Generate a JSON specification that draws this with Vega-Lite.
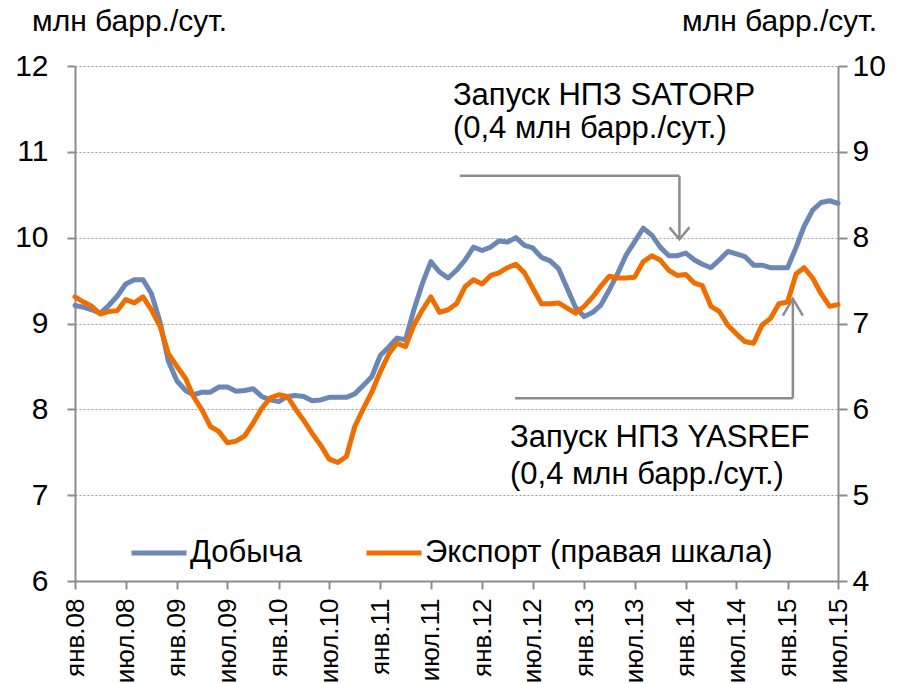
{
  "$schema": "https://vega.github.io/schema/vega-lite/v6.json",
  "width": 763,
  "height": 515,
  "autosize": {"type": "none"},
  "padding": {"left": 75, "top": 66, "right": 65, "bottom": 103},
  "background": "white",
  "config": {
    "font": "Liberation Sans",
    "view": {"stroke": null},
    "axis": {"labelColor": "#000000", "titleColor": "#000000", "domainColor": "#8c8c8c", "tickColor": "#8c8c8c", "domainWidth": 2, "tickWidth": 2, "titleFontWeight": "normal"}
  },
  "datasets": {
    "series": [
      {"d": "2008-01-01", "p": 9.21, "e": 7.31},
      {"d": "2008-02-01", "p": 9.19, "e": 7.25},
      {"d": "2008-03-01", "p": 9.16, "e": 7.20},
      {"d": "2008-04-01", "p": 9.12, "e": 7.11},
      {"d": "2008-05-01", "p": 9.21, "e": 7.14},
      {"d": "2008-06-01", "p": 9.32, "e": 7.15},
      {"d": "2008-07-01", "p": 9.46, "e": 7.28},
      {"d": "2008-08-01", "p": 9.51, "e": 7.24},
      {"d": "2008-09-01", "p": 9.51, "e": 7.31},
      {"d": "2008-10-01", "p": 9.35, "e": 7.16},
      {"d": "2008-11-01", "p": 9.02, "e": 6.97},
      {"d": "2008-12-01", "p": 8.56, "e": 6.65},
      {"d": "2009-01-01", "p": 8.33, "e": 6.50},
      {"d": "2009-02-01", "p": 8.22, "e": 6.36},
      {"d": "2009-03-01", "p": 8.17, "e": 6.15},
      {"d": "2009-04-01", "p": 8.20, "e": 5.99},
      {"d": "2009-05-01", "p": 8.20, "e": 5.80},
      {"d": "2009-06-01", "p": 8.26, "e": 5.74},
      {"d": "2009-07-01", "p": 8.26, "e": 5.61},
      {"d": "2009-08-01", "p": 8.21, "e": 5.63},
      {"d": "2009-09-01", "p": 8.22, "e": 5.69},
      {"d": "2009-10-01", "p": 8.24, "e": 5.84},
      {"d": "2009-11-01", "p": 8.15, "e": 6.01},
      {"d": "2009-12-01", "p": 8.11, "e": 6.13},
      {"d": "2010-01-01", "p": 8.09, "e": 6.17},
      {"d": "2010-02-01", "p": 8.15, "e": 6.15},
      {"d": "2010-03-01", "p": 8.16, "e": 6.01},
      {"d": "2010-04-01", "p": 8.15, "e": 5.87},
      {"d": "2010-05-01", "p": 8.10, "e": 5.72},
      {"d": "2010-06-01", "p": 8.11, "e": 5.58},
      {"d": "2010-07-01", "p": 8.14, "e": 5.42},
      {"d": "2010-08-01", "p": 8.14, "e": 5.38},
      {"d": "2010-09-01", "p": 8.14, "e": 5.45},
      {"d": "2010-10-01", "p": 8.18, "e": 5.80},
      {"d": "2010-11-01", "p": 8.28, "e": 6.01},
      {"d": "2010-12-01", "p": 8.38, "e": 6.20},
      {"d": "2011-01-01", "p": 8.63, "e": 6.44},
      {"d": "2011-02-01", "p": 8.73, "e": 6.65},
      {"d": "2011-03-01", "p": 8.83, "e": 6.77},
      {"d": "2011-04-01", "p": 8.81, "e": 6.73},
      {"d": "2011-05-01", "p": 9.16, "e": 6.98},
      {"d": "2011-06-01", "p": 9.47, "e": 7.16},
      {"d": "2011-07-01", "p": 9.72, "e": 7.31},
      {"d": "2011-08-01", "p": 9.60, "e": 7.13},
      {"d": "2011-09-01", "p": 9.53, "e": 7.16},
      {"d": "2011-10-01", "p": 9.62, "e": 7.23},
      {"d": "2011-11-01", "p": 9.74, "e": 7.43},
      {"d": "2011-12-01", "p": 9.89, "e": 7.51},
      {"d": "2012-01-01", "p": 9.85, "e": 7.46},
      {"d": "2012-02-01", "p": 9.89, "e": 7.56},
      {"d": "2012-03-01", "p": 9.96, "e": 7.59},
      {"d": "2012-04-01", "p": 9.95, "e": 7.65},
      {"d": "2012-05-01", "p": 10.00, "e": 7.69},
      {"d": "2012-06-01", "p": 9.91, "e": 7.59},
      {"d": "2012-07-01", "p": 9.88, "e": 7.41},
      {"d": "2012-08-01", "p": 9.77, "e": 7.23},
      {"d": "2012-09-01", "p": 9.73, "e": 7.23},
      {"d": "2012-10-01", "p": 9.64, "e": 7.24},
      {"d": "2012-11-01", "p": 9.41, "e": 7.18},
      {"d": "2012-12-01", "p": 9.19, "e": 7.12},
      {"d": "2013-01-01", "p": 9.08, "e": 7.20},
      {"d": "2013-02-01", "p": 9.13, "e": 7.31},
      {"d": "2013-03-01", "p": 9.21, "e": 7.43},
      {"d": "2013-04-01", "p": 9.39, "e": 7.55},
      {"d": "2013-05-01", "p": 9.58, "e": 7.53},
      {"d": "2013-06-01", "p": 9.80, "e": 7.53},
      {"d": "2013-07-01", "p": 9.95, "e": 7.54},
      {"d": "2013-08-01", "p": 10.11, "e": 7.72},
      {"d": "2013-09-01", "p": 10.03, "e": 7.79},
      {"d": "2013-10-01", "p": 9.89, "e": 7.74},
      {"d": "2013-11-01", "p": 9.79, "e": 7.62},
      {"d": "2013-12-01", "p": 9.79, "e": 7.56},
      {"d": "2014-01-01", "p": 9.82, "e": 7.57},
      {"d": "2014-02-01", "p": 9.74, "e": 7.47},
      {"d": "2014-03-01", "p": 9.69, "e": 7.44},
      {"d": "2014-04-01", "p": 9.65, "e": 7.20},
      {"d": "2014-05-01", "p": 9.74, "e": 7.14},
      {"d": "2014-06-01", "p": 9.84, "e": 6.98},
      {"d": "2014-07-01", "p": 9.81, "e": 6.88},
      {"d": "2014-08-01", "p": 9.78, "e": 6.79},
      {"d": "2014-09-01", "p": 9.68, "e": 6.77},
      {"d": "2014-10-01", "p": 9.68, "e": 6.98},
      {"d": "2014-11-01", "p": 9.65, "e": 7.06},
      {"d": "2014-12-01", "p": 9.65, "e": 7.23},
      {"d": "2015-01-01", "p": 9.65, "e": 7.25},
      {"d": "2015-02-01", "p": 9.89, "e": 7.58},
      {"d": "2015-03-01", "p": 10.13, "e": 7.65},
      {"d": "2015-04-01", "p": 10.32, "e": 7.53},
      {"d": "2015-05-01", "p": 10.41, "e": 7.35},
      {"d": "2015-06-01", "p": 10.43, "e": 7.20},
      {"d": "2015-07-01", "p": 10.40, "e": 7.22}
    ],
    "segments": [
      {"xa": "2011-10-13", "xb": "2013-12-09", "ya": 10.72, "yb": 10.72},
      {"xa": "2013-12-09", "xb": "2013-12-09", "ya": 10.72, "yb": 9.98},
      {"xa": "2012-04-28", "xb": "2015-01-20", "ya": 8.13, "yb": 8.13},
      {"xa": "2015-01-20", "xb": "2015-01-20", "ya": 8.13, "yb": 9.29}
    ],
    "headDown": [{"hx": "2013-12-09", "hy": 9.98}],
    "headUp": [{"hx": "2015-01-20", "hy": 9.29}],
    "notes": [
      {"tx": "2011-09-18", "ty": 11.55, "t": "Запуск НПЗ SATORP"},
      {"tx": "2011-09-18", "ty": 11.16, "t": "(0,4 млн барр./сут.)"},
      {"tx": "2012-04-10", "ty": 7.56, "t": "Запуск НПЗ YASREF"},
      {"tx": "2012-04-10", "ty": 7.13, "t": "(0,4 млн барр./сут.)"}
    ]
  },
  "layer": [
    {
      "layer": [
        {
          "data": {"name": "series"},
          "mark": {"type": "line", "strokeWidth": 5, "strokeJoin": "round", "strokeCap": "round"},
          "encoding": {
            "x": {
              "field": "d", "type": "temporal",
              "scale": {"type": "utc", "domain": [{"year": 2008, "month": 1, "date": 1, "utc": true}, {"year": 2015, "month": 7, "date": 1, "utc": true}]},
              "axis": {
                "title": null,
                "values": [
                  {"year": 2008, "month": 1, "date": 1, "utc": true}, {"year": 2008, "month": 7, "date": 1, "utc": true},
                  {"year": 2009, "month": 1, "date": 1, "utc": true}, {"year": 2009, "month": 7, "date": 1, "utc": true},
                  {"year": 2010, "month": 1, "date": 1, "utc": true}, {"year": 2010, "month": 7, "date": 1, "utc": true},
                  {"year": 2011, "month": 1, "date": 1, "utc": true}, {"year": 2011, "month": 7, "date": 1, "utc": true},
                  {"year": 2012, "month": 1, "date": 1, "utc": true}, {"year": 2012, "month": 7, "date": 1, "utc": true},
                  {"year": 2013, "month": 1, "date": 1, "utc": true}, {"year": 2013, "month": 7, "date": 1, "utc": true},
                  {"year": 2014, "month": 1, "date": 1, "utc": true}, {"year": 2014, "month": 7, "date": 1, "utc": true},
                  {"year": 2015, "month": 1, "date": 1, "utc": true}, {"year": 2015, "month": 7, "date": 1, "utc": true}
                ],
                "labelExpr": "(utcmonth(datum.value) == 0 ? 'янв.' : 'июл.') + utcFormat(datum.value, '%y')",
                "labelAngle": -90,
                "labelFontSize": 26,
                "labelPadding": 9,
                "tickSize": 8,
                "grid": false,
                "labelOverlap": false,
                "labelFlush": false
              }
            },
            "y": {
              "field": "p", "type": "quantitative",
              "title": "млн барр./сут.",
              "scale": {"domain": [6, 12], "nice": false, "zero": false},
              "axis": {
                "orient": "left",
                "values": [6, 7, 8, 9, 10, 11, 12],
                "format": "d",
                "grid": true,
                "gridDash": [2, 2],
                "gridColor": "#9a9a9a",
                "gridWidth": 1.2,
                "labelFontSize": 30,
                "labelPadding": 19,
                "tickSize": 8,
                "titleAngle": 0,
                "titleFontSize": 30,
                "titleX": 54,
                "titleY": -45,
                "titleAlign": "center",
                "titleBaseline": "middle"
              }
            },
            "color": {
              "datum": "Добыча",
              "type": "nominal",
              "scale": {"domain": ["Добыча", "Экспорт (правая шкала)"], "range": ["#6a87b5", "#f06e00"]},
              "legend": {
                "orient": "none",
                "legendX": 54,
                "legendY": 457,
                "direction": "horizontal",
                "title": null,
                "symbolType": "stroke",
                "symbolStrokeWidth": 5,
                "symbolSize": 3025,
                "labelFontSize": 31,
                "labelOffset": 1,
                "columnPadding": 53,
                "labelLimit": 600,
                "labelColor": "#000000"
              }
            }
          }
        },
        {
          "data": {"name": "segments"},
          "mark": {"type": "rule", "color": "#8c8c8c", "strokeWidth": 2.5},
          "encoding": {
            "x": {"field": "xa", "type": "temporal", "scale": {"type": "utc"}},
            "x2": {"field": "xb"},
            "y": {"field": "ya", "type": "quantitative", "title": "млн барр./сут.", "scale": {"domain": [6, 12], "nice": false, "zero": false}},
            "y2": {"field": "yb"}
          }
        },
        {
          "data": {"name": "headDown"},
          "mark": {"type": "point", "shape": "M-1,-1.2L0,0L1,-1.2", "filled": false, "stroke": "#8c8c8c", "strokeWidth": 2.5, "size": 400, "opacity": 1},
          "encoding": {
            "x": {"field": "hx", "type": "temporal", "scale": {"type": "utc"}},
            "y": {"field": "hy", "type": "quantitative", "title": "млн барр./сут.", "scale": {"domain": [6, 12], "nice": false, "zero": false}}
          }
        },
        {
          "data": {"name": "headUp"},
          "mark": {"type": "point", "shape": "M-1,1.7L0,0L1,1.7", "filled": false, "stroke": "#8c8c8c", "strokeWidth": 2.5, "size": 400, "opacity": 1},
          "encoding": {
            "x": {"field": "hx", "type": "temporal", "scale": {"type": "utc"}},
            "y": {"field": "hy", "type": "quantitative", "title": "млн барр./сут.", "scale": {"domain": [6, 12], "nice": false, "zero": false}}
          }
        },
        {
          "data": {"name": "notes"},
          "mark": {"type": "text", "align": "left", "baseline": "alphabetic", "fontSize": 31, "color": "#000000"},
          "encoding": {
            "x": {"field": "tx", "type": "temporal", "scale": {"type": "utc"}},
            "y": {"field": "ty", "type": "quantitative", "title": "млн барр./сут.", "scale": {"domain": [6, 12], "nice": false, "zero": false}},
            "text": {"field": "t"}
          }
        }
      ]
    },
    {
      "data": {"name": "series"},
      "mark": {"type": "line", "strokeWidth": 5, "strokeJoin": "round", "strokeCap": "round"},
      "encoding": {
        "x": {"field": "d", "type": "temporal", "scale": {"type": "utc"}},
        "y": {
          "field": "e", "type": "quantitative",
          "title": "млн барр./сут.",
          "scale": {"domain": [4, 10], "nice": false, "zero": false},
          "axis": {
            "orient": "right",
            "values": [4, 5, 6, 7, 8, 9, 10],
            "format": "d",
            "grid": false,
            "labelFontSize": 30,
            "labelPadding": 5,
            "tickSize": 9,
            "titleAngle": 0,
            "titleFontSize": 30,
            "titleX": -59,
            "titleY": -45,
            "titleAlign": "center",
            "titleBaseline": "middle"
          }
        },
        "color": {"datum": "Экспорт (правая шкала)", "type": "nominal"}
      }
    }
  ],
  "resolve": {"scale": {"y": "independent"}}
}
